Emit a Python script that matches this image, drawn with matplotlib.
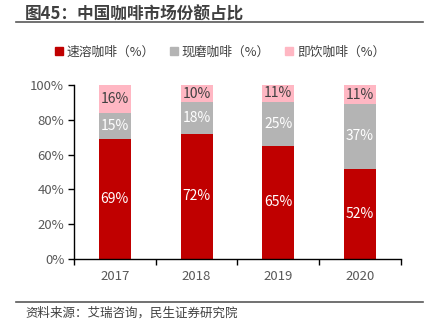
import matplotlib
matplotlib.use('Agg')
import matplotlib.pyplot as plt
from matplotlib.lines import Line2D
import numpy as np

plt.rcParams['font.family'] = ['Noto Sans CJK SC', 'DejaVu Sans']

years = ['2017', '2018', '2019', '2020']
instant = [69, 72, 65, 52]
fresh = [15, 18, 25, 37]
rtd = [16, 10, 11, 11]
series_names = ['速溶咖啡（%）', '现磨咖啡（%）', '即饮咖啡（%）']
colors = ['#C00000', '#B4B4B4', '#FFB7C3']
label_colors = ['white', 'white', '#404040']
y_ticks = [0, 20, 40, 60, 80, 100]

fig = plt.figure(figsize=(4.27, 3.25), dpi=100)
ax = fig.add_axes([74 / 427, 1 - 259 / 325, 327 / 427, 174 / 325])

x = np.arange(len(years))
width = 0.39
bottom = np.zeros(len(years))
for vals, c, lc in zip([instant, fresh, rtd], colors, label_colors):
    vals = np.array(vals, dtype=float)
    ax.bar(x, vals, width, bottom=bottom, color=c, edgecolor='none')
    for xi, b, v in zip(x, bottom, vals):
        ax.text(xi, b + v / 2, f'{int(v)}%', ha='center', va='center',
                color=lc, fontsize=10)
    bottom += vals

ax.set_xlim(-0.5, len(years) - 0.5)
ax.set_ylim(0, 100)
ax.set_yticks(y_ticks)
ax.set_yticklabels([f'{t}%' for t in y_ticks])
ax.set_xticks(x)
ax.set_xticklabels(years)
ax.set_xticks(np.arange(-0.5, len(years)), minor=True)
ax.tick_params(axis='x', which='major', length=0, pad=8, labelsize=9.5, labelcolor='#595959')
ax.tick_params(axis='x', which='minor', length=4, width=1, direction='out', color='black')
ax.tick_params(axis='y', length=4, width=1, labelsize=9.5, labelcolor='#595959', pad=3)
for s in ['top', 'right']:
    ax.spines[s].set_visible(False)
for s in ['left', 'bottom']:
    ax.spines[s].set_color('black')
    ax.spines[s].set_linewidth(1)

handles = [Line2D([], [], marker='s', ls='none', color=c, markersize=6) for c in colors]
fig.legend(handles, series_names, loc='center', bbox_to_anchor=(220 / 427, 1 - 52 / 325),
           ncol=3, frameon=False, fontsize=9.2, handlelength=0.6, handletextpad=0.3,
           columnspacing=1.2, labelcolor='#404040')

# title, rules and source note
fig.text(25 / 427, 1 - 15 / 325, '图45：中国咖啡市场份额占比', fontsize=12, fontweight='bold',
         color='#404040', va='center', ha='left')
fig.add_artist(Line2D([16 / 427, 423 / 427], [1 - 22 / 325] * 2, color='#595959', lw=1.2))
fig.add_artist(Line2D([16 / 427, 423 / 427], [1 - 302 / 325] * 2, color='#595959', lw=1.2))
fig.text(25 / 427, 1 - 313 / 325, '资料来源：艾瑞咨询，民生证券研究院', fontsize=9,
         color='#404040', va='center', ha='left')

fig.savefig('out.png', dpi=100)
